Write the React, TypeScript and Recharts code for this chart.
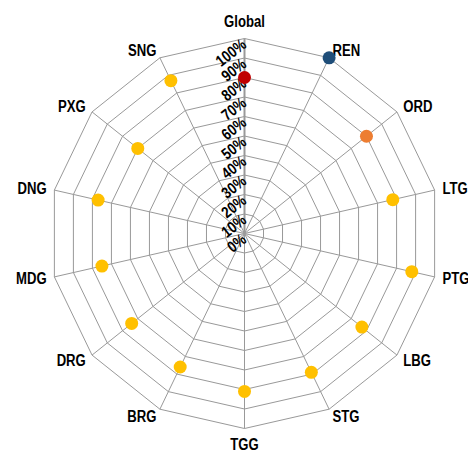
import { PolarAngleAxis, PolarGrid, PolarRadiusAxis, Radar, RadarChart } from 'recharts';

// categories clockwise from the top
const categories = ['Global', 'REN', 'ORD', 'LTG', 'PTG', 'LBG', 'STG', 'TGG', 'BRG', 'DRG', 'MDG', 'DNG', 'PXG', 'SNG'];
const scores = [80, 100, 80, 78, 88, 77, 79, 81, 76, 74, 75, 77, 70, 87];
const dotColors = ['#c00000', '#1f4e79', '#ed7d31', '#ffc000', '#ffc000', '#ffc000', '#ffc000', '#ffc000', '#ffc000', '#ffc000', '#ffc000', '#ffc000', '#ffc000', '#ffc000'];
const radiusTicks = [0, 10, 20, 30, 40, 50, 60, 70, 80, 90, 100];

const data = categories.map((name, i) => ({ name, value: scores[i] }));

// no narrow font installed, so squeeze Liberation Sans horizontally instead
const FONT = "'Liberation Sans', Arial, sans-serif";
const NARROW = 0.82;

function AngleTick(props: any) {
  const { x, y, textAnchor, payload } = props;
  const s = Math.sin((payload.coordinate * Math.PI) / 180);
  // labels straight above / below the spoke sit clear of the vertex
  let dy = 0;
  if (textAnchor === 'middle') dy = s > 0 ? -9 : 8;
  return (
    <text
      transform={`translate(${x}, ${y + dy}) scale(${NARROW}, 1)`}
      textAnchor={textAnchor}
      dominantBaseline="central"
      fontFamily={FONT}
      fontWeight="bold"
      fontSize={16}
      fill="#000"
    >
      {payload.value}
    </text>
  );
}

function RadiusTick(props: any) {
  const { x, y, payload } = props;
  const ax = x + 3;
  const ay = y + 8;
  return (
    <text
      transform={`translate(${ax}, ${ay}) rotate(-38) scale(${NARROW}, 1)`}
      textAnchor="end"
      fontFamily={FONT}
      fontWeight="bold"
      fontSize={16}
      fill="#000"
    >
      {`${payload.value}%`}
    </text>
  );
}

function ScoreDot(props: any) {
  const { cx, cy, index } = props;
  return <circle key={`dot-${index}`} cx={cx} cy={cy} r={6.5} fill={dotColors[index]} />;
}

export default function App() {
  return (
    <div style={{ position: 'absolute', left: 0, top: 0, width: 468, height: 453, background: '#fff' }}>
      <RadarChart
        width={468}
        height={453}
        data={data}
        cx={244.5}
        cy={233.5}
        outerRadius={195}
        startAngle={90}
        endAngle={-270}
        margin={{ top: 0, right: 0, bottom: 0, left: 0 }}
      >
        <PolarGrid gridType="polygon" stroke="#999" strokeWidth={1} />
        <PolarAngleAxis dataKey="name" tick={AngleTick} tickLine={false} axisLine={false} />
        <PolarRadiusAxis
          angle={90}
          domain={[0, 100]}
          ticks={radiusTicks}
          tick={RadiusTick}
          tickLine={false}
          axisLine={{ stroke: '#999', strokeWidth: 2 }}
        />
        <Radar
          dataKey="value"
          stroke="none"
          fill="none"
          dot={ScoreDot}
          activeDot={false}
          isAnimationActive={false}
        />
      </RadarChart>
    </div>
  );
}
